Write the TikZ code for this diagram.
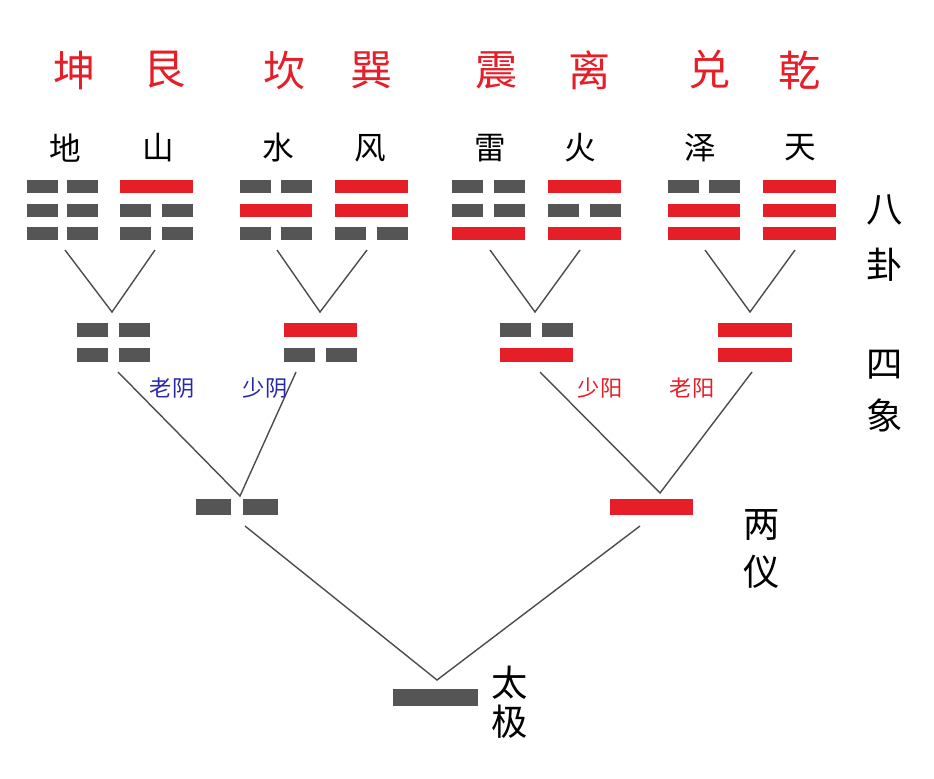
\documentclass[tikz,border=0pt]{standalone}
\usepackage{fontspec}
\newfontfamily\cjk{Noto Sans CJK SC}
\definecolor{yr}{RGB}{230,30,40}
\definecolor{yg}{RGB}{85,85,85}
\definecolor{lb}{RGB}{40,40,170}
\begin{document}
\begin{tikzpicture}[x=0.03cm,y=-0.03cm,
  yang/.style={fill=yr},yin/.style={fill=yg},
  ln/.style={draw=yg!90!black,line width=1.2pt},
  big/.style={font=\cjk\fontsize{36}{36}\selectfont,text=yr},
  mid/.style={font=\cjk\fontsize{27}{27}\selectfont,text=black},
  rgt/.style={font=\cjk\fontsize{31}{31}\selectfont,text=black},
  sml/.style={font=\cjk\fontsize{19}{19}\selectfont}]
\useasboundingbox (0,0) rectangle (934,778);
\newcommand{\yangbar}[4]{\fill[yang] (#1,#3-#4/2) rectangle (#2,#3+#4/2);}
\newcommand{\yinbar}[4]{\pgfmathsetmacro{\wA}{(#2-#1)*0.43}\fill[yin] (#1,#3-#4/2) rectangle ({#1+\wA},#3+#4/2);\fill[yin] ({#2-\wA},#3-#4/2) rectangle (#2,#3+#4/2);}
\newcommand{\tri}[5]{\csname #3bar\endcsname{#1}{#2}{186}{13}\csname #4bar\endcsname{#1}{#2}{210}{13}\csname #5bar\endcsname{#1}{#2}{233}{13}}
\tri{27}{98}{yin}{yin}{yin}
\tri{120}{193}{yang}{yin}{yin}
\tri{240}{312}{yin}{yang}{yin}
\tri{335}{408}{yang}{yang}{yin}
\tri{452}{525}{yin}{yin}{yang}
\tri{548}{621}{yang}{yin}{yang}
\tri{668}{740}{yin}{yang}{yang}
\tri{763}{836}{yang}{yang}{yang}
\yinbar{77}{150}{330}{14}\yinbar{77}{150}{355}{14}
\yangbar{284}{357}{330}{14}\yinbar{284}{357}{355}{14}
\yinbar{500}{573}{330}{14}\yangbar{500}{573}{355}{14}
\yangbar{718}{792}{330}{14}\yangbar{718}{792}{355}{14}
\yinbar{196}{278}{507}{16}
\yangbar{610}{693}{507}{16}
\fill[yin] (393,689) rectangle (478,706);
\coordinate (k1) at (65,250); \coordinate (k2) at (155,250); \coordinate (s1) at (112,312);
\coordinate (k3) at (277,250); \coordinate (k4) at (367,250); \coordinate (s2) at (320,312);
\coordinate (k5) at (490,250); \coordinate (k6) at (580,250); \coordinate (s3) at (535,312);
\coordinate (k7) at (705,250); \coordinate (k8) at (795,250); \coordinate (s4) at (750,312);
\draw[ln] (k1)--(s1)--(k2); \draw[ln] (k3)--(s2)--(k4);
\draw[ln] (k5)--(s3)--(k6); \draw[ln] (k7)--(s4)--(k8);
\coordinate (a1) at (118,372); \coordinate (a2) at (296,372); \coordinate (y1) at (240,496);
\coordinate (a3) at (540,372); \coordinate (a4) at (752,372); \coordinate (y2) at (660,493);
\draw[ln] (a1)--(y1)--(a2); \draw[ln] (a3)--(y2)--(a4);
\coordinate (b1) at (245,526); \coordinate (b2) at (640,526); \coordinate (t) at (437,680);
\draw[ln] (b1)--(t)--(b2);
\foreach \x/\t in {75/坤,165/艮,285/坎,372/巽,497/震,590/离,710/兑,800/乾}
  \node[big] (g\t) at (\x,70) {\t};
\foreach \x/\t in {65/地,158/山,278/水,370/风,490/雷,580/火,700/泽,800/天}
  \node[mid] (n\t) at (\x,148) {\t};
\node[rgt] (r1) at (885,210) {八}; \node[rgt] (r2) at (885,265) {卦};
\node[rgt] (r3) at (885,365) {四}; \node[rgt] (r4) at (885,415) {象};
\node[rgt] (r5) at (762,525) {两}; \node[rgt] (r6) at (762,572) {仪};
\node[rgt] (r7) at (510,683) {太}; \node[rgt] (r8) at (510,722) {极};
\node[sml,text=lb] (l1) at (172,388) {老阴};
\node[sml,text=lb] (l2) at (265,388) {少阴};
\node[sml,text=yr] (l3) at (600,388) {少阳};
\node[sml,text=yr] (l4) at (692,388) {老阳};
\end{tikzpicture}
\end{document}
